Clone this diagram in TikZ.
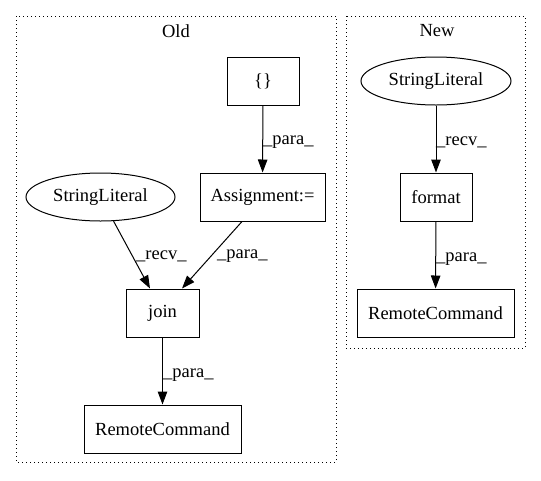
\documentclass[tikz,border=0pt]{standalone}
\usepackage{fontspec}
\setmainfont{Liberation Serif}
\usetikzlibrary{arrows.meta,shapes.geometric}
\begin{document}
\begin{tikzpicture}[x=1pt,y=-1pt,
  every node/.style={font=\fontsize{18.5}{21}\selectfont},
  box/.style={draw,line width=1pt,rectangle,inner sep=0pt},
  ell/.style={draw,line width=1pt,ellipse,inner sep=0pt},
  edge/.style={draw,line width=1pt,-{Triangle[length=13pt,width=9.5pt]}},
  elabel/.style={anchor=west,inner sep=0pt},
  cluster/.style={draw,line width=1pt,dash pattern=on 1pt off 3pt}]
\useasboundingbox (0,0) rectangle (541,480);
% clusters
\draw[cluster] (16,16) rectangle (336,462);
\draw[cluster] (346,16) rectangle (525,348);
\node (oldt) at (176,31) {Old};
\node (newt) at (437,31) {New};
% Old
\node[box,minimum width=72pt,minimum height=48pt] (br) at (263,81) {\{\}};
\node[box,minimum width=125pt,minimum height=48pt] (asg) at (262.5,197) {Assignment:=};
\node[ell,minimum width=149pt,minimum height=48pt] (sl1) at (100.5,197) {StringLiteral};
\node[box,minimum width=73pt,minimum height=48pt] (join) at (162.5,313) {join};
\node[box,minimum width=157pt,minimum height=48pt] (rc1) at (162.5,429) {RemoteCommand};
% New
\node[ell,minimum width=150pt,minimum height=48pt] (sl2) at (436,81) {StringLiteral};
\node[box,minimum width=72pt,minimum height=48pt] (fmt) at (436,197) {format};
\node[box,minimum width=157pt,minimum height=48pt] (rc2) at (435.5,313) {RemoteCommand};
% edges
\draw[edge] (br) -- (asg);
\node[elabel] (l1) at (263,142) {\_para\_};
\draw[edge] (sl1) -- (join.north west -| 150,0);
\node[elabel] (l2) at (136,256) {\_recv\_};
\draw[edge] (asg.south -| 242,0) -- (join.north -| 182,0);
\node[elabel] (l3) at (217,256) {\_para\_};
\draw[edge] (join) -- (rc1);
\node[elabel] (l4) at (163,375) {\_para\_};
\draw[edge] (sl2) -- (fmt);
\node[elabel] (l5) at (436,142) {\_recv\_};
\draw[edge] (fmt) -- (rc2);
\node[elabel] (l6) at (436,259) {\_para\_};
\end{tikzpicture}
\end{document}
